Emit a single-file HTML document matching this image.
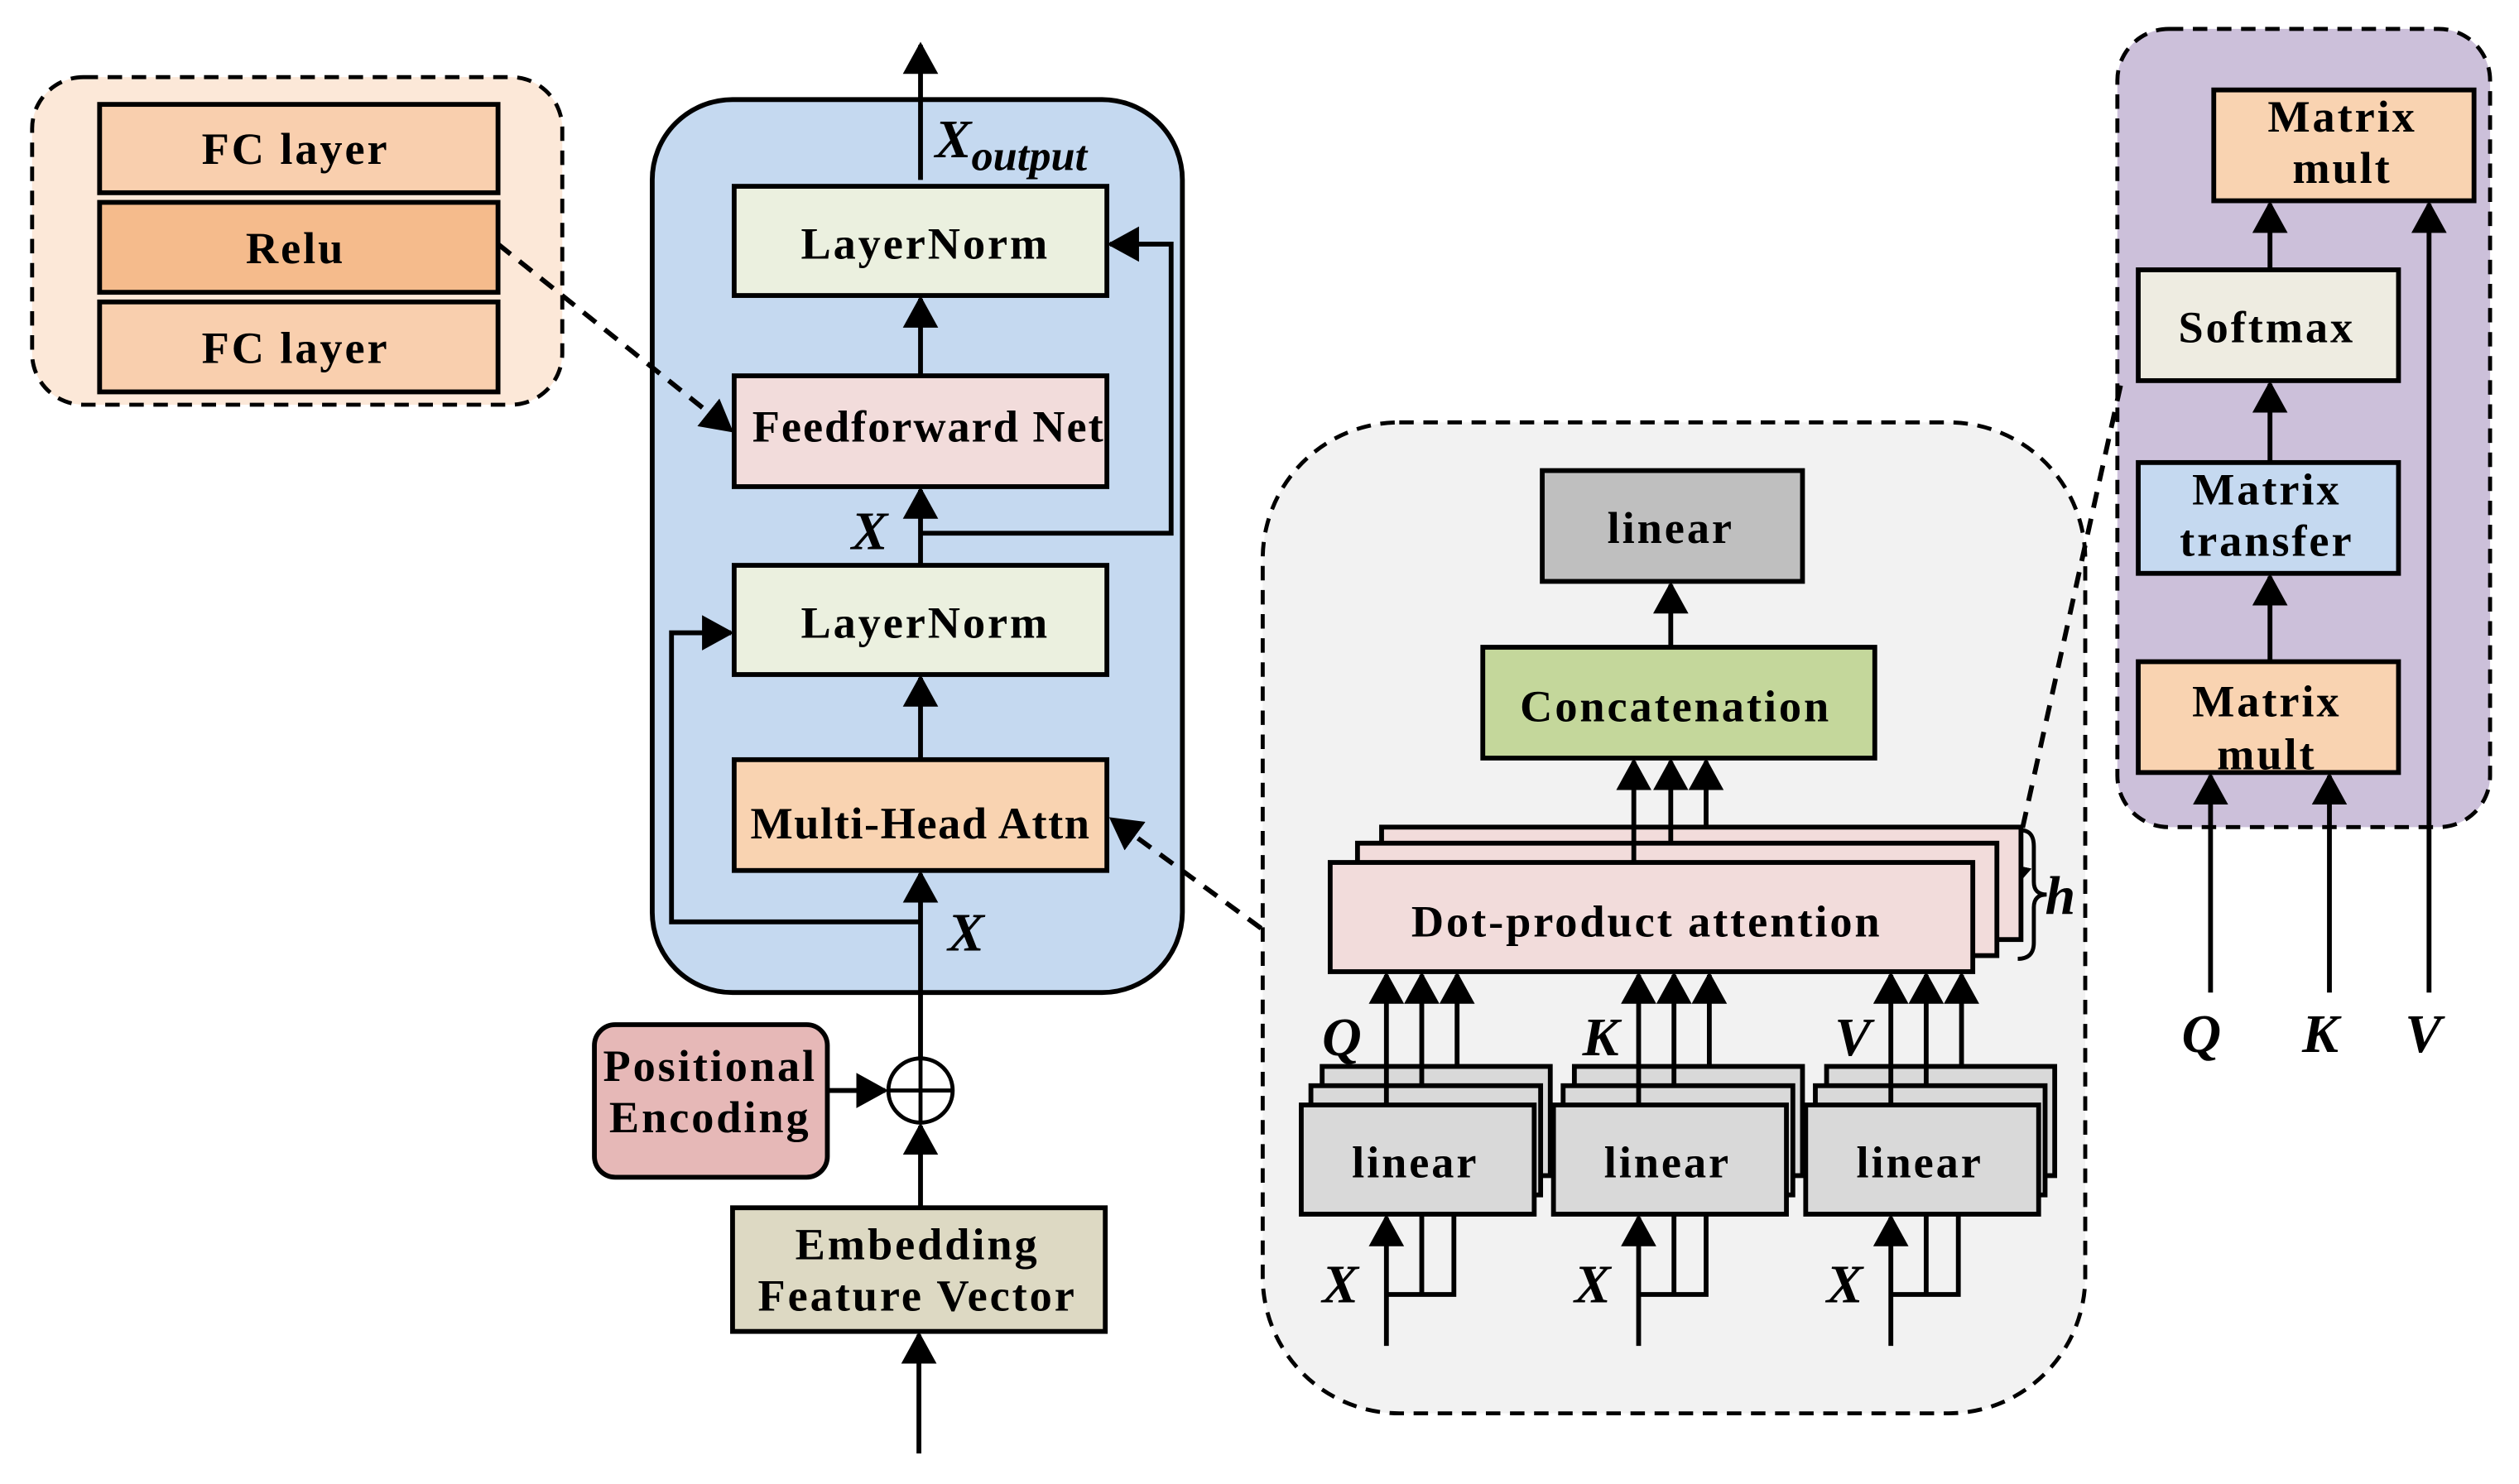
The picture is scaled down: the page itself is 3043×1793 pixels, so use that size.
<!DOCTYPE html>
<html><head><meta charset="utf-8"><style>
html,body{margin:0;padding:0;background:#fff}
svg{display:block}
text{font-family:"Liberation Serif",serif;font-weight:bold;fill:#000}
</style></head><body>
<svg width="3043" height="1793" viewBox="0 0 1568 924" preserveAspectRatio="none" xmlns="http://www.w3.org/2000/svg">
<defs>
<marker id="a" markerUnits="userSpaceOnUse" markerWidth="24" markerHeight="24" refX="18" refY="11" orient="auto">
<path d="M0,0 L20,11 L0,22 z" fill="#000"/></marker>
</defs>
<g stroke="#000" stroke-width="3" fill="none">
<rect x="20" y="48" width="330" height="204" rx="32" fill="#fce8d8" stroke-dasharray="9,6" stroke-width="2.5"/>
<rect x="62" y="65" width="248" height="55" fill="#f9cfae"/>
<rect x="62" y="126" width="248" height="56" fill="#f5bb8c"/>
<rect x="62" y="188" width="248" height="56" fill="#f9cfae"/>
<rect x="406" y="62" width="330" height="556" rx="50" fill="#c5d9f0"/>
<rect x="786" y="263" width="512" height="617" rx="85" fill="#f2f2f2" stroke-dasharray="9,6" stroke-width="2.5"/>
<rect x="1318" y="18" width="232" height="497" rx="32" fill="#ccc0da" stroke-dasharray="9,6" stroke-width="2.5"/>
<rect x="457" y="116" width="232" height="68" fill="#ebf0df"/>
<rect x="457" y="234" width="232" height="69" fill="#f2dcdb"/>
<rect x="457" y="352" width="232" height="68" fill="#ebf0df"/>
<rect x="457" y="473" width="232" height="69" fill="#f9d3b1"/>
<rect x="370" y="638" width="145" height="95" rx="13" fill="#e6b8b7"/>
<rect x="456" y="752" width="232" height="77" fill="#ddd9c3"/>
<circle cx="573" cy="679" r="20" fill="#fff" stroke-width="2.5"/>
<line x1="553" y1="679" x2="593" y2="679" stroke-width="2.5"/>
<line x1="573" y1="659" x2="573" y2="699" stroke-width="2.5"/>
<line x1="573" y1="112" x2="573" y2="28" marker-end="url(#a)"/>
<line x1="573" y1="234" x2="573" y2="186" marker-end="url(#a)"/>
<line x1="573" y1="352" x2="573" y2="305" marker-end="url(#a)"/>
<polyline points="573,332 729,332 729,152 691,152" marker-end="url(#a)"/>
<line x1="573" y1="473" x2="573" y2="422" marker-end="url(#a)"/>
<line x1="573" y1="659" x2="573" y2="544" marker-end="url(#a)"/>
<polyline points="573,574 418,574 418,394 455,394" marker-end="url(#a)"/>
<line x1="515" y1="679" x2="551" y2="679" marker-end="url(#a)"/>
<line x1="573" y1="752" x2="573" y2="701" marker-end="url(#a)"/>
<line x1="572" y1="905" x2="572" y2="831" marker-end="url(#a)"/>
<line x1="310" y1="152" x2="455" y2="268" stroke-dasharray="10,7" marker-end="url(#a)"/>
<line x1="785" y1="578" x2="692" y2="510" stroke-dasharray="10,7" marker-end="url(#a)"/>
<line x1="1320" y1="240" x2="1250" y2="556" stroke-dasharray="10,7" marker-end="url(#a)"/>
<rect x="960" y="293" width="162" height="69" fill="#bfbfbf"/>
<line x1="1040" y1="403" x2="1040" y2="364" marker-end="url(#a)"/>
<rect x="923" y="403" width="244" height="69" fill="#c4d79b"/>
<rect x="860" y="515" width="398" height="70" fill="#f2dcdb"/>
<rect x="845" y="525" width="398" height="70" fill="#f2dcdb"/>
<rect x="828" y="537" width="400" height="68" fill="#f2dcdb"/>
<line x1="1017" y1="537" x2="1017" y2="474" marker-end="url(#a)"/>
<line x1="1040" y1="525" x2="1040" y2="474" marker-end="url(#a)"/>
<line x1="1062" y1="515" x2="1062" y2="474" marker-end="url(#a)"/>
<path d="M1258,517 q8,0 8,10 v22 q0,8 8,8 q-8,0 -8,8 v22 q0,10 -10,10" stroke-width="2.5"/>
<g fill="#d9d9d9">
<rect x="823" y="664" width="142" height="68"/><rect x="816" y="676" width="143" height="68"/><rect x="810" y="688" width="145" height="68"/>
<rect x="980" y="664" width="142" height="68"/><rect x="973" y="676" width="143" height="68"/><rect x="967" y="688" width="145" height="68"/>
<rect x="1137" y="664" width="142" height="68"/><rect x="1130" y="676" width="143" height="68"/><rect x="1124" y="688" width="145" height="68"/>
</g>
<g>
<line x1="863" y1="688" x2="863" y2="607" marker-end="url(#a)"/>
<line x1="885" y1="676" x2="885" y2="607" marker-end="url(#a)"/>
<line x1="907" y1="664" x2="907" y2="607" marker-end="url(#a)"/>
<line x1="1020" y1="688" x2="1020" y2="607" marker-end="url(#a)"/>
<line x1="1042" y1="676" x2="1042" y2="607" marker-end="url(#a)"/>
<line x1="1064" y1="664" x2="1064" y2="607" marker-end="url(#a)"/>
<line x1="1177" y1="688" x2="1177" y2="607" marker-end="url(#a)"/>
<line x1="1199" y1="676" x2="1199" y2="607" marker-end="url(#a)"/>
<line x1="1221" y1="664" x2="1221" y2="607" marker-end="url(#a)"/>
<line x1="863" y1="838" x2="863" y2="758" marker-end="url(#a)"/>
<polyline points="863,806 905,806 905,756" /><line x1="885" y1="806" x2="885" y2="756"/>
<line x1="1020" y1="838" x2="1020" y2="758" marker-end="url(#a)"/>
<polyline points="1020,806 1062,806 1062,756" /><line x1="1042" y1="806" x2="1042" y2="756"/>
<line x1="1177" y1="838" x2="1177" y2="758" marker-end="url(#a)"/>
<polyline points="1177,806 1219,806 1219,756" /><line x1="1199" y1="806" x2="1199" y2="756"/>
</g>
<rect x="1378" y="56" width="162" height="69" fill="#f9d3b1"/>
<rect x="1331" y="168" width="162" height="69" fill="#eeece1"/>
<rect x="1331" y="288" width="162" height="69" fill="#c5d9f0"/>
<rect x="1331" y="412" width="162" height="69" fill="#f9d3b1"/>
<line x1="1413" y1="168" x2="1413" y2="127" marker-end="url(#a)"/>
<line x1="1413" y1="288" x2="1413" y2="239" marker-end="url(#a)"/>
<line x1="1413" y1="412" x2="1413" y2="359" marker-end="url(#a)"/>
<line x1="1512" y1="618" x2="1512" y2="127" marker-end="url(#a)"/>
<line x1="1376" y1="618" x2="1376" y2="483" marker-end="url(#a)"/>
<line x1="1450" y1="618" x2="1450" y2="483" marker-end="url(#a)"/>
</g>
<g font-size="28" text-anchor="middle" letter-spacing="1.5">
<text x="184" y="102">FC layer</text>
<text x="184" y="164">Relu</text>
<text x="184" y="226">FC layer</text>
<text x="576" y="161">LayerNorm</text>
<text x="578" y="275" letter-spacing="1">Feedforward Net</text>
<text x="576" y="397">LayerNorm</text>
<text x="573" y="522" letter-spacing="0.8">Multi-Head Attn</text>
<text x="442" y="673">Positional</text>
<text x="442" y="705">Encoding</text>
<text x="571" y="784">Embedding</text>
<text x="571" y="816">Feature Vector</text>
<text x="1040" y="338">linear</text>
<text x="1043" y="449">Concatenation</text>
<text x="1025" y="583">Dot-product attention</text>
<text x="881" y="733">linear</text>
<text x="1038" y="733">linear</text>
<text x="1195" y="733">linear</text>
<text x="1458" y="82">Matrix</text>
<text x="1458" y="114">mult</text>
<text x="1411" y="213">Softmax</text>
<text x="1411" y="314">Matrix</text>
<text x="1411" y="346">transfer</text>
<text x="1411" y="446">Matrix</text>
<text x="1411" y="479">mult</text>
</g>
<g font-size="34" font-style="italic">
<text x="582" y="98">X<tspan font-size="27" dy="8">output</tspan></text>
<text x="530" y="342">X</text>
<text x="590" y="592">X</text>
<text x="823" y="657">Q</text>
<text x="985" y="657">K</text>
<text x="1142" y="657">V</text>
<text x="823" y="811">X</text>
<text x="980" y="811">X</text>
<text x="1137" y="811">X</text>
<text x="1273" y="569">h</text>
<text x="1358" y="655">Q</text>
<text x="1433" y="655">K</text>
<text x="1497" y="655">V</text>
</g>
</svg>
</body></html>
